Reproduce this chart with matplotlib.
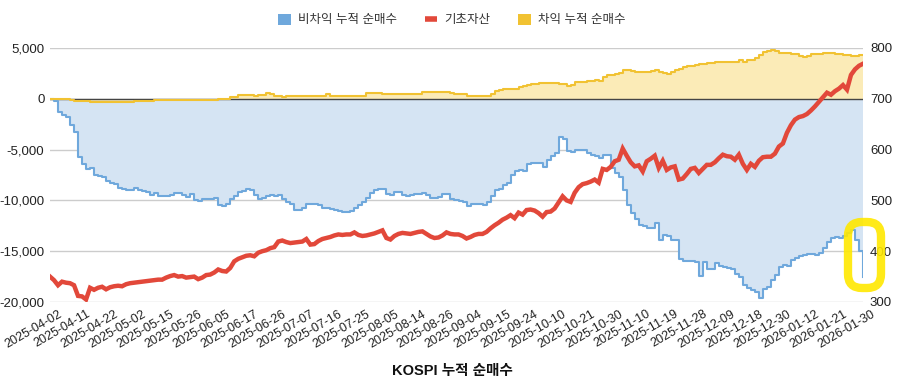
import numpy as np
import pandas as pd
import matplotlib
matplotlib.use("Agg")
import matplotlib.pyplot as plt
from matplotlib.patches import Patch, FancyBboxPatch
from matplotlib.lines import Line2D
from matplotlib.transforms import IdentityTransform, ScaledTranslation

plt.rcParams['font.family'] = ['Liberation Sans', 'Noto Sans CJK KR', 'DejaVu Sans']

# KRX trading days, 2025-04-02 .. 2026-01-30
holidays = ['2025-05-01', '2025-05-05', '2025-05-06', '2025-06-03', '2025-06-06',
            '2025-08-15', '2025-10-03', '2025-10-06', '2025-10-07', '2025-10-08',
            '2025-10-09', '2025-12-25', '2025-12-31', '2026-01-01']
dates = pd.bdate_range('2025-04-02', '2026-01-30', freq='C', holidays=holidays)

# 비차익 누적 순매수 (left axis)
non_arb = [
    0, -200, -1300, -1600, -1800, -2600, -3300, -5700, -6400, -6900,
    -6800, -7500, -7600, -7700, -8100, -8300, -8400, -8800, -8900, -9000,
    -9000, -8800, -9000, -9100, -9200, -9500, -9300, -9600, -9600, -9600,
    -9500, -9300, -9300, -9500, -9700, -9400, -10000, -10100, -9900, -9900,
    -9900, -9800, -10500, -10600, -10400, -9900, -9600, -9200, -9100, -8900,
    -9000, -9500, -9900, -9800, -9600, -9500, -9600, -9500, -9900, -10200,
    -10400, -10900, -10900, -10700, -10400, -10400, -10400, -10500, -10700, -10700,
    -10800, -10900, -11000, -11100, -11100, -11000, -10700, -10500, -10200, -9800,
    -9300, -9000, -8900, -8900, -9400, -9500, -9200, -9200, -9500, -9600,
    -9500, -9400, -9400, -9300, -9500, -9800, -9800, -9700, -9400, -9400,
    -9900, -10000, -10100, -10200, -10600, -10400, -10400, -10400, -10500, -10200,
    -9600, -9000, -8900, -8500, -8300, -7500, -7100, -7000, -7100, -6400,
    -6300, -6300, -6300, -6700, -6000, -5600, -5300, -3800, -4000, -5100,
    -5200, -5000, -5000, -5000, -5300, -5500, -5600, -5800, -5500, -5500,
    -6800, -7300, -7700, -9000, -10500, -11200, -11800, -12400, -12500, -12700,
    -12700, -12200, -13900, -13400, -13500, -13900, -13900, -15800, -16000, -16000,
    -16000, -16100, -17400, -16100, -16800, -16800, -16200, -16500, -16600, -16700,
    -16800, -17200, -17500, -18300, -18600, -18800, -19000, -19600, -18700, -18500,
    -17800, -17300, -16600, -16400, -16500, -15900, -15700, -15500, -15400, -15300,
    -15300, -15400, -15200, -14700, -14100, -13700, -13600, -13700, -13500, -13200,
    -12900, -13900, -15000, -17500,
]

# 차익 누적 순매수 (left axis)
arb = [
    0, 0, -20, -50, -50, -80, -200, -200, -220, -250,
    -280, -300, -320, -330, -330, -320, -300, -300, -300, -290,
    -280, -260, -230, -200, -180, -170, -160, -150, -150, -140,
    -130, -130, -120, -120, -110, -100, -100, -100, -90, -80,
    -80, -70, -60, -60, -50, 150, 200, 350, 350, 330,
    330, 320, 330, 350, 550, 500, 250, 230, 220, 230,
    240, 300, 300, 280, 290, 300, 310, 300, 300, 450,
    320, 300, 300, 290, 290, 300, 300, 310, 320, 550,
    550, 560, 540, 520, 450, 450, 460, 460, 450, 450,
    460, 460, 470, 650, 650, 660, 650, 640, 640, 630,
    620, 500, 480, 470, 320, 300, 300, 300, 300, 310,
    500, 800, 850, 950, 950, 950, 1000, 1200, 1300, 1400,
    1450, 1500, 1550, 1550, 1550, 1560, 1550, 1500, 1450, 1250,
    1400, 1650, 1700, 1700, 1750, 1800, 1850, 1800, 2100, 2300,
    2350, 2450, 2550, 2850, 2850, 2700, 2650, 2650, 2650, 2650,
    2700, 2850, 2600, 2500, 2450, 2600, 2800, 2950, 3100, 3200,
    3250, 3300, 3400, 3450, 3500, 3550, 3600, 3600, 3600, 3650,
    3650, 3650, 3850, 3600, 3800, 3850, 4000, 4300, 4600, 4750,
    4800, 4700, 4550, 4500, 4500, 4450, 4400, 4200, 4150, 4250,
    4400, 4400, 4450, 4500, 4500, 4500, 4450, 4400, 4350, 4300,
    4250, 4250, 4300, 4300,
]

# 기초자산 (right axis)
kospi = [
    350, 343, 333, 340, 338, 337, 333, 312, 311, 305,
    328, 324, 328, 330, 325, 329, 331, 332, 331, 335,
    337, 338, 339, 340, 341, 342, 343, 344, 344, 348,
    351, 353, 350, 351, 348, 349, 350, 345, 348, 353,
    354, 358, 364, 361, 360, 367, 380, 385, 388, 391,
    392, 390, 397, 400, 402, 406, 408, 419, 421, 418,
    416, 417, 418, 419, 424, 413, 414, 420, 424, 426,
    428, 431, 433, 432, 433, 433, 437, 432, 430, 431,
    433, 435, 438, 441, 426, 423, 430, 434, 436, 435,
    434, 436, 438, 439, 434, 429, 426, 427, 431, 437,
    434, 433, 433, 430, 425, 428, 432, 434, 434, 438,
    445, 451, 456, 462, 466, 471, 465, 476, 472, 481,
    482, 480, 475, 468, 477, 478, 484, 496, 508, 500,
    497, 515, 526, 532, 534, 537, 541, 535, 562, 560,
    566, 577, 580, 602, 588, 575, 567, 569, 557, 577,
    582, 588, 564, 578, 560, 565, 567, 541, 543, 552,
    562, 564, 554, 562, 570, 570, 575, 583, 590, 587,
    586, 580, 590, 572, 560, 572, 566, 578, 585, 586,
    586, 592, 606, 612, 633, 648, 659, 664, 666, 670,
    677, 685, 694, 703, 712, 708, 715, 720, 727, 718,
    747, 758, 765, 769,
]

x = np.arange(len(dates))
tick_idx = x[::7]
tick_labels = [d.strftime('%Y-%m-%d') for d in dates[::7]]

BLUE = '#6fa8dc'
BLUE_FILL = '#d5e4f3'
YELLOW = '#f1c232'
YELLOW_FILL = '#fbebb7'
RED = '#e2483a'

fig = plt.figure(figsize=(9.04, 3.88), dpi=100)
ax = fig.add_axes([50 / 904, 1 - 302 / 388, (863 - 50) / 904, (302 - 48) / 388])
ax2 = ax.twinx()

ax.fill_between(x, non_arb, 0, step='post', color=BLUE_FILL, lw=0, zorder=1)
ax.fill_between(x, arb, 0, step='post', color=YELLOW_FILL, lw=0, zorder=1)
ax.step(x, non_arb, where='post', color=BLUE, lw=1.5, zorder=3)
ax.step(x, arb, where='post', color=YELLOW, lw=1.5, zorder=3)
ax.axhline(0, color='#444444', lw=1.0, zorder=2)

ax2.plot(x, kospi, color=RED, lw=3.2, solid_joinstyle='miter', zorder=4)

ax.set_xlim(0, len(x) - 1)
ax.set_ylim(-20000, 5000)
ax2.set_ylim(300, 800)
ax.set_yticks(np.arange(-20000, 5001, 5000))
ax.set_yticklabels([f'{v:,}' for v in np.arange(-20000, 5001, 5000)])
ax2.set_yticks(np.arange(300, 801, 100))
ax.grid(axis='y', color='#cccccc', lw=1, zorder=0)
ax.set_axisbelow(True)

# date labels, rotated, anchored a little right of each tick
ax.set_xticks(tick_idx)
ax.set_xticklabels([])
lab_trans = ax.get_xaxis_transform() + ScaledTranslation(8 / 100, -6 / 100, fig.dpi_scale_trans)
for i, lab in zip(tick_idx, tick_labels):
    ax.text(i, 0, lab, transform=lab_trans, rotation=30, ha='right', va='top',
            rotation_mode='anchor', fontsize=9, color='#222222', clip_on=False)

for a in (ax, ax2):
    for s in a.spines.values():
        s.set_visible(False)
    a.tick_params(length=0, labelsize=9.5, colors='#222222')
ax.tick_params(axis='y', pad=4)
ax2.tick_params(axis='y', pad=5)

ax2.set_zorder(ax.get_zorder() + 1)
ax2.patch.set_visible(False)

handles = [
    Patch(facecolor=BLUE, edgecolor='none'),
    Line2D([], [], color=RED, lw=4, solid_capstyle='butt'),
    Patch(facecolor=YELLOW, edgecolor='none'),
]
labels = ['비차익 누적 순매수', '기초자산', '차익 누적 순매수']
fig.legend(handles, labels, loc='center', bbox_to_anchor=(0.5, 1 - 20 / 388),
           ncol=3, frameon=False, fontsize=9, handlelength=1.0, handleheight=1.0,
           columnspacing=2.2, handletextpad=0.6, labelcolor='#333333')

fig.text(0.5, 1 - 371 / 388, 'KOSPI 누적 순매수', ha='center', va='center',
         fontsize=10.5, fontweight='bold', color='#111111')

# hand-drawn highlight around the last days
hl = FancyBboxPatch((848, 388 - 288), 33, 66,
                    boxstyle='round,pad=0,rounding_size=14',
                    fill=False, edgecolor='#ffe800', lw=6, alpha=0.9,
                    transform=IdentityTransform(), zorder=10)
fig.patches.append(hl)

fig.savefig('out.png', dpi=100)
